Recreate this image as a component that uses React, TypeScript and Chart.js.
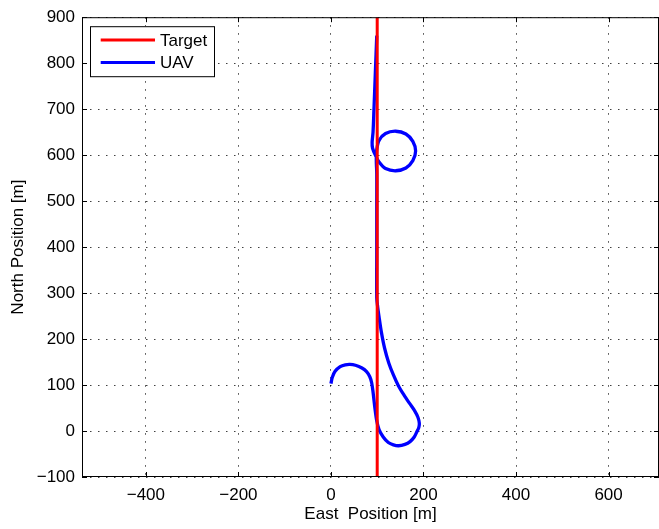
import { useEffect, useRef } from 'react';
import { Chart, registerables } from 'chart.js';

Chart.register(...registerables);

const targetEast = [100, 100];
const targetNorth = [-100, 900];

const uavEast = [0, 3, 9, 20, 31, 41, 53, 67, 77, 84, 88, 91, 95, 99, 104, 113, 124, 135, 146, 160, 171, 180, 186, 190, 191, 188, 181, 170, 158, 146, 135, 125, 116, 109, 104, 101, 99, 99, 99, 99, 98, 99, 104, 118, 140, 162, 177, 183, 177, 162, 140, 118, 104, 96, 90, 89, 91, 93, 96, 99];
const uavNorth = [103, 117, 130, 140, 144, 145, 143, 137, 129, 118, 105, 85, 50, 22, 3, -13, -25, -30, -32, -29, -23, -13, -1, 8, 17, 30, 44, 60, 78, 98, 122, 148, 180, 215, 248, 270, 290, 400, 500, 560, 590, 612, 632, 647, 652, 646, 630, 609, 588, 572, 566, 571, 585, 600, 615, 628, 650, 700, 780, 860];

const xTicks = [-400, -200, 0, 200, 400, 600];
const yTicks = [-100, 0, 100, 200, 300, 400, 500, 600, 700, 800, 900];
const xRange = [-538, 709];
const yRange = [-100, 900];

const seriesLabels = ['Target', 'UAV'];
const seriesColors = ['#ff0000', '#0000ff'];

const FONT = "'Liberation Sans', Arial, Helvetica, sans-serif";

const fmt = (v: number) => (v < 0 ? '\u2212' + Math.abs(v) : String(v));

const framePlugin = {
  id: 'matlabFrame',
  afterDraw(chart: any) {
    const { ctx, chartArea } = chart;
    const { left, right, top, bottom } = chartArea;
    const xs = chart.scales.x;
    const ys = chart.scales.y;
    ctx.save();
    ctx.strokeStyle = '#000';
    ctx.lineWidth = 1;
    ctx.setLineDash([]);
    ctx.strokeRect(left + 0.5, top + 0.5, right - left - 1, bottom - top - 1);
    const tl = 5;
    ctx.beginPath();
    xTicks.forEach((v) => {
      const px = Math.round(xs.getPixelForValue(v)) + 0.5;
      ctx.moveTo(px, bottom);
      ctx.lineTo(px, bottom - tl);
      ctx.moveTo(px, top);
      ctx.lineTo(px, top + tl);
    });
    yTicks.forEach((v) => {
      const py = Math.round(ys.getPixelForValue(v)) + 0.5;
      ctx.moveTo(left, py);
      ctx.lineTo(left + tl, py);
      ctx.moveTo(right, py);
      ctx.lineTo(right - tl, py);
    });
    ctx.stroke();

    // legend
    ctx.font = `17px ${FONT}`;
    const bx = left + 8;
    const by = top + 9;
    const textW = Math.max(...seriesLabels.map((l) => ctx.measureText(l).width));
    const bw = Math.round(70 + textW + 7);
    const bh = 50;
    ctx.fillStyle = '#fff';
    ctx.fillRect(bx, by, bw, bh);
    ctx.strokeStyle = '#000';
    ctx.lineWidth = 1;
    ctx.strokeRect(bx + 0.5, by + 0.5, bw, bh);
    seriesLabels.forEach((lab, i) => {
      const ly = by + 13.7 + i * 22.6;
      ctx.strokeStyle = seriesColors[i];
      ctx.lineWidth = 3;
      ctx.beginPath();
      ctx.moveTo(bx + 10.7, ly);
      ctx.lineTo(bx + 65, ly);
      ctx.stroke();
      ctx.fillStyle = '#000';
      ctx.textBaseline = 'middle';
      ctx.textAlign = 'left';
      ctx.fillText(lab, bx + 70, ly + 1);
    });
    ctx.restore();
  },
};

export default function App() {
  const ref = useRef<HTMLCanvasElement | null>(null);
  useEffect(() => {
    if (!ref.current) return;
    const chart = new Chart(ref.current, {
      type: 'line',
      data: {
        datasets: [
          {
            label: seriesLabels[0],
            data: targetEast.map((x, i) => ({ x, y: targetNorth[i] })),
            borderColor: seriesColors[0],
            backgroundColor: seriesColors[0],
            borderWidth: 3,
            pointRadius: 0,
            fill: false,
          },
          {
            label: seriesLabels[1],
            data: uavEast.map((x, i) => ({ x, y: uavNorth[i] })),
            borderColor: seriesColors[1],
            backgroundColor: seriesColors[1],
            borderWidth: 3.3,
            pointRadius: 0,
            tension: 0.3,
            fill: false,
          },
        ],
      },
      options: {
        animation: false,
        responsive: false,
        maintainAspectRatio: false,
        layout: { padding: { top: 15, right: 0, left: 0, bottom: 0 } },
        plugins: {
          legend: { display: false },
          tooltip: { enabled: false },
        },
        scales: {
          x: {
            type: 'linear',
            min: xRange[0],
            max: xRange[1],
            afterBuildTicks: (s: any) => {
              s.ticks = xTicks.map((v) => ({ value: v }));
            },
            afterFit: (s: any) => {
              s.height = 52;
            },
            grid: { color: 'rgba(0,0,0,0.75)', lineWidth: 1, drawTicks: false },
            border: { display: false, dash: [1.5, 6.5] },
            ticks: {
              padding: 8,
              color: '#000',
              font: { family: FONT, size: 17 },
              maxRotation: 0,
              autoSkip: false,
              callback: (v: any) => fmt(Number(v)),
            },
            title: {
              display: true,
              text: 'East  Position [m]',
              color: '#000',
              font: { family: FONT, size: 17 },
              padding: { top: 0, bottom: 4 },
            },
          },
          y: {
            type: 'linear',
            min: yRange[0],
            max: yRange[1],
            afterBuildTicks: (s: any) => {
              s.ticks = yTicks.map((v) => ({ value: v }));
            },
            afterFit: (s: any) => {
              s.width = 82;
            },
            grid: { color: 'rgba(0,0,0,0.75)', lineWidth: 1, drawTicks: false },
            border: { display: false, dash: [1.5, 6.5] },
            ticks: {
              padding: 7,
              color: '#000',
              font: { family: FONT, size: 17 },
              autoSkip: false,
              callback: (v: any) => fmt(Number(v)),
            },
            title: {
              display: true,
              text: 'North Position [m]',
              color: '#000',
              font: { family: FONT, size: 17 },
              padding: { top: 8, bottom: 0 },
            },
          },
        },
      },
      plugins: [framePlugin],
    } as any);
    return () => chart.destroy();
  }, []);
  return (
    <div style={{ position: 'fixed', left: 0, top: 0, width: 659, height: 529, background: '#fff' }}>
      <canvas ref={ref} width={659} height={529} style={{ display: 'block', width: 659, height: 529 }} />
    </div>
  );
}
